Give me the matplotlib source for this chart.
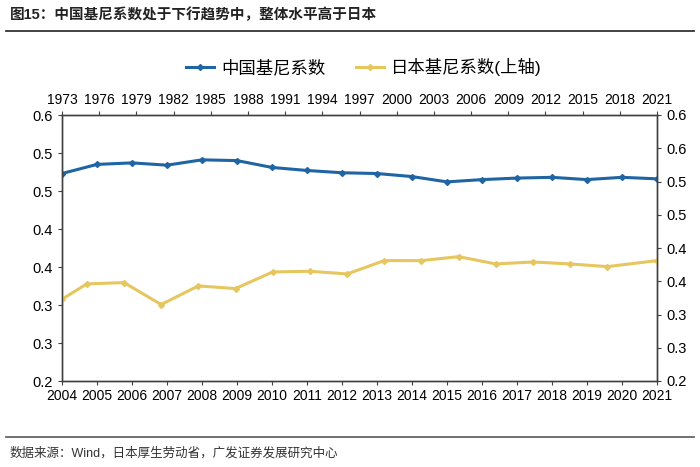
import matplotlib
matplotlib.use("Agg")
import matplotlib.pyplot as plt

plt.rcParams['font.family'] = ['Liberation Sans', 'Noto Sans CJK SC', 'DejaVu Sans']

# China Gini (bottom x axis, left y axis)
cn_years = list(range(2004, 2022))
cn_gini = [0.473, 0.485, 0.487, 0.484, 0.491, 0.490, 0.481, 0.477, 0.474,
           0.473, 0.469, 0.462, 0.465, 0.467, 0.468, 0.465, 0.468, 0.466]

# Japan Gini (top x axis, right y axis)
jp_years = [1973, 1975, 1978, 1981, 1984, 1987, 1990, 1993, 1996, 1999,
            2002, 2005, 2008, 2011, 2014, 2017, 2021]
jp_gini = [0.323, 0.346, 0.348, 0.315, 0.343, 0.339, 0.364, 0.365, 0.361,
           0.381, 0.381, 0.387, 0.376, 0.379, 0.376, 0.372, 0.381]

left_ticks = [0.2, 0.25, 0.3, 0.35, 0.4, 0.45, 0.5, 0.55]
left_labels = ['0.2', '0.3', '0.3', '0.4', '0.4', '0.5', '0.5', '0.6']
right_ticks = [0.2, 0.25, 0.3, 0.35, 0.4, 0.45, 0.5, 0.55, 0.6]
right_labels = ['0.2', '0.3', '0.3', '0.4', '0.4', '0.5', '0.5', '0.6', '0.6']
top_ticks = list(range(1973, 2022, 3))

blue = '#1F64A3'
yellow = '#E6C65E'
axcol = '#404040'

fig = plt.figure(figsize=(7, 4.67), dpi=100)
pos = [62 / 700, 1 - 381 / 467, 595 / 700, 266 / 467]

ax1 = fig.add_axes(pos)
ax2 = fig.add_axes(pos, facecolor='none')

l1, = ax1.plot(cn_years, cn_gini, color=blue, lw=2.2, marker='D', ms=3,
               label='中国基尼系数')
l2, = ax2.plot(jp_years, jp_gini, color=yellow, lw=2.2, marker='D', ms=3,
               label='日本基尼系数(上轴)')

ax1.set_xlim(2004, 2021)
ax1.set_ylim(0.2, 0.55)
ax1.set_xticks(cn_years)
ax1.set_yticks(left_ticks)
ax1.set_yticklabels(left_labels)
ax1.tick_params(axis='x', labelsize=10, direction='out', length=3, color=axcol, pad=3)
ax1.tick_params(axis='y', labelsize=10.5, direction='out', length=3, color=axcol)

ax2.set_xlim(1973, 2021)
ax2.set_ylim(0.2, 0.6)
ax2.xaxis.tick_top()
ax2.yaxis.tick_right()
ax2.set_xticks(top_ticks)
ax2.set_yticks(right_ticks)
ax2.set_yticklabels(right_labels)
ax2.tick_params(axis='x', labelsize=10, direction='out', length=3, color=axcol, pad=3)
ax2.tick_params(axis='y', labelsize=10.5, direction='out', length=3, color=axcol)

for ax in (ax1, ax2):
    for s in ax.spines.values():
        s.set_color(axcol)
        s.set_linewidth(1.0)

fig.legend(handles=[l1, l2], loc='center', bbox_to_anchor=(0.52, 1 - 67 / 467),
           ncol=2, frameon=False, fontsize=12.5, handlelength=1.6,
           columnspacing=1.8, handletextpad=0.4)

fig.text(10 / 700, 1 - 15 / 467, '图15：中国基尼系数处于下行趋势中，整体水平高于日本',
         fontsize=10.5, fontweight='bold', color='#222222', va='center', ha='left')
fig.add_artist(plt.Line2D([6 / 700, 694 / 700], [1 - 31 / 467, 1 - 31 / 467],
                          color='#333333', lw=1.3))
fig.add_artist(plt.Line2D([6 / 700, 694 / 700], [1 - 437 / 467, 1 - 437 / 467],
                          color='#666666', lw=1.3))
fig.text(10 / 700, 1 - 453 / 467, '数据来源：Wind，日本厚生劳动省，广发证券发展研究中心',
         fontsize=9, color='#333333', va='center', ha='left')

fig.savefig('out.png', dpi=100)
